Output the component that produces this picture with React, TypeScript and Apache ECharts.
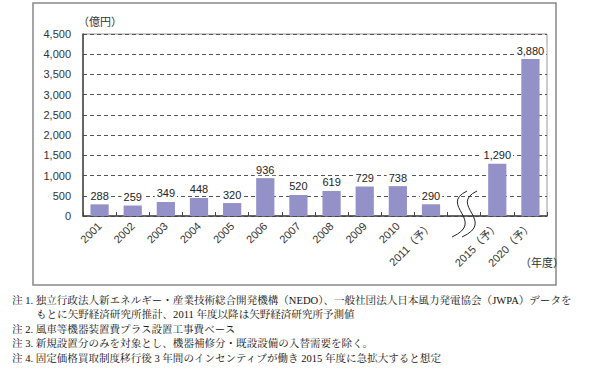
import React, { useEffect, useRef } from "react";
import * as echarts from "echarts";

const categories = [
  "2001", "2002", "2003", "2004", "2005", "2006", "2007", "2008", "2009", "2010",
  "2011（予）", "", "2015（予）", "2020（予）",
];
const values: (number | null)[] = [288, 259, 349, 448, 320, 936, 520, 619, 729, 738, 290, null, 1290, 3880];
const yMin = 0;
const yMax = 4500;
const yInterval = 500;
const unitLabel = "（億円）";
const xUnitLabel = "（年度）";
const notes = [
  "注 1. 独立行政法人新エネルギー・産業技術総合開発機構（NEDO）、一般社団法人日本風力発電協会（JWPA）データを",
  "もとに矢野経済研究所推計、2011 年度以降は矢野経済研究所予測値",
  "注 2. 風車等機器装置費プラス設置工事費ベース",
  "注 3. 新規設置分のみを対象とし、機器補修分・既設設備の入替需要を除く。",
  "注 4. 固定価格買取制度移行後 3 年間のインセンティブが働き 2015 年度に急拡大すると想定",
];

const SANS = "Arial, 'Liberation Sans', 'Noto Sans CJK JP', sans-serif";
const SERIF = "'Liberation Serif', 'Noto Serif CJK JP', 'Noto Sans CJK JP', serif";

export default function App() {
  const ref = useRef<HTMLDivElement>(null);
  useEffect(() => {
    if (!ref.current) return;
    const chart = echarts.init(ref.current, null, { renderer: "svg" });
    const fmt = (v: number) => v.toLocaleString("en-US");
    const noteY = [300, 314.5, 329, 343.5, 358];
    const noteX = [12, 36, 12, 12, 12];
    const breakCurve = (dx: number) => ({
      type: "bezierCurve",
      shape: {
        x1: 467 + dx, y1: 191,
        cpx1: 438 + dx, cpy1: 205,
        cpx2: 487 + dx, cpy2: 221,
        x2: 452 + dx, y2: 237,
      },
      style: { stroke: "#222", lineWidth: 1, fill: null },
      z: 100,
    });
    chart.setOption({
      animation: false,
      backgroundColor: "#fff",
      textStyle: { fontFamily: SANS },
      grid: {
        left: 83, right: 43, top: 34, bottom: 152,
        show: true, borderColor: "#999", borderWidth: 1, backgroundColor: "transparent",
      },
      xAxis: {
        type: "category",
        data: categories,
        axisLine: { lineStyle: { color: "#444", width: 1.5 } },
        axisTick: { show: true, inside: true, length: 4, lineStyle: { color: "#444" } },
        axisLabel: { rotate: 45, fontSize: 11, color: "#333", margin: 8, interval: 0, fontFamily: SANS },
      },
      yAxis: {
        type: "value",
        min: yMin, max: yMax, interval: yInterval,
        axisLine: { show: true, lineStyle: { color: "#444", width: 1.5 } },
        axisTick: { show: false },
        axisLabel: { fontSize: 11, color: "#333", margin: 12, formatter: (v: number) => fmt(v), fontFamily: SANS },
        splitLine: { show: true, lineStyle: { color: "#555", type: [4, 3], width: 1 } },
      },
      series: [
        {
          type: "bar",
          data: values,
          barWidth: "55%",
          itemStyle: { color: "#9391c8" },
          label: {
            show: true,
            position: "top",
            distance: 3,
            fontSize: 11,
            color: "#222",
            backgroundColor: "#fff",
            padding: [0, 2],
            fontFamily: SANS,
            formatter: (p: any) => fmt(p.value),
          },
        },
      ],
      graphic: [
        {
          type: "rect",
          shape: { x: 33, y: 3, width: 523, height: 282 },
          style: { fill: null, stroke: "#888", lineWidth: 1.5 },
          z: -1,
          silent: true,
        },
        {
          type: "text",
          x: 78, y: 22,
          style: { text: unitLabel, fontSize: 11, fill: "#333", fontFamily: SANS, verticalAlign: "middle" },
        },
        {
          type: "text",
          x: 520, y: 263,
          style: { text: xUnitLabel, fontSize: 11, fill: "#333", fontFamily: SANS, verticalAlign: "middle" },
        },
        breakCurve(0),
        breakCurve(10),
        ...notes.map((t, i) => ({
          type: "text",
          x: noteX[i],
          y: noteY[i],
          style: { text: t, fontSize: 10.55, fill: "#111", fontFamily: SERIF, verticalAlign: "middle" },
        })),
      ],
    });
    return () => chart.dispose();
  }, []);
  return (
    <div
      ref={ref}
      style={{ position: "absolute", left: 0, top: 0, width: 590, height: 368 }}
    />
  );
}
